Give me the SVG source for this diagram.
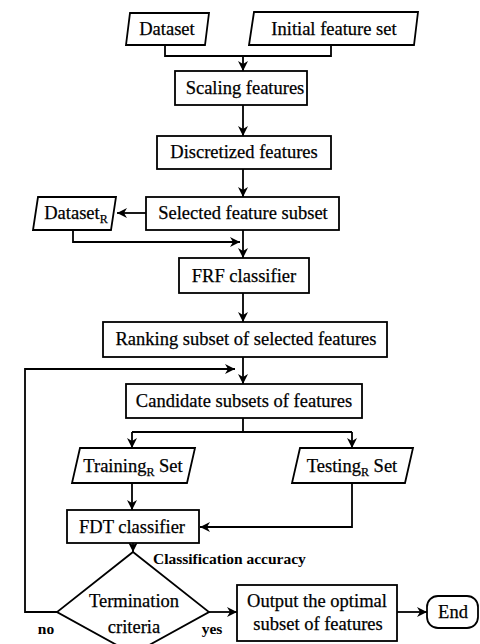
<svg xmlns="http://www.w3.org/2000/svg" width="480" height="644" viewBox="0 0 480 644">
<defs>
<marker id="ah" viewBox="0 0 10 10" refX="10" refY="5" markerWidth="10" markerHeight="10" markerUnits="userSpaceOnUse" orient="auto">
<path d="M0,0 L10,5 L0,10 L3,5 z" fill="#000"/>
</marker>
<style>
.box{fill:#fff;stroke:#000;stroke-width:1.8}
text{font-family:'Liberation Serif','Times New Roman',Times,serif;fill:#000}
.t{font-size:18.5px;text-anchor:middle;stroke:#000;stroke-width:0.25}
.b{font-size:15.5px;font-weight:bold}
.sub{font-size:12px}
.ln{fill:none;stroke:#000;stroke-width:1.8}
.ar{fill:none;stroke:#000;stroke-width:1.8;marker-end:url(#ah)}
</style>
</defs>
<rect width="480" height="644" fill="#fff"/>
<g id="connectors">
<path class="ln" d="M165,45 V56 H331 V45"/>
<path class="ar" d="M243,56 V71"/>
<path class="ar" d="M243,105 V136"/>
<path class="ar" d="M243,169 V197"/>
<path class="ar" d="M146,213 H117"/>
<path class="ar" d="M73,230 V242 H240"/>
<path class="ar" d="M243,230 V258"/>
<path class="ar" d="M243,293 V322"/>
<path class="ar" d="M243,357 V384"/>
<path class="ar" d="M57,612 H25 V369 H235"/>
<path class="ln" d="M243,418 V432 M132,432 H352"/>
<path class="ar" d="M132,432 V448"/>
<path class="ar" d="M352,432 V448"/>
<path class="ar" d="M132,483 V510"/>
<path class="ar" d="M352,483 V527 H200"/>
<path class="ar" d="M133,543 V552"/>
<path class="ar" d="M209,612 H237"/>
<path class="ar" d="M397,612 H427"/>
<text class="b" x="153" y="564">Classification accuracy</text>
<text class="b" x="46" y="634" text-anchor="middle">no</text>
<text class="b" x="212" y="634" text-anchor="middle">yes</text>
</g>
<g id="dataset">
<polygon class="box" points="130,13 209,13 205,45 126,45"/>
<text class="t" x="167" y="35">Dataset</text>
</g>
<g id="initial">
<polygon class="box" points="254,12 418,12 414,45 249,45"/>
<text class="t" x="334" y="35">Initial feature set</text>
</g>
<g id="scaling">
<rect class="box" x="175" y="71" width="132" height="34"/>
<text class="t" x="245" y="94">Scaling features</text>
</g>
<g id="discretized">
<rect class="box" x="157" y="136" width="174" height="33"/>
<text class="t" x="244" y="158">Discretized features</text>
</g>
<g id="selected">
<rect class="box" x="146" y="197" width="193" height="33"/>
<text class="t" x="243" y="219">Selected feature subset</text>
</g>
<g id="datasetR">
<polygon class="box" points="38,197 116,197 111,230 33,230"/>
<text class="t" x="76" y="219">Dataset<tspan class="sub" dy="4">R</tspan></text>
</g>
<g id="frf">
<rect class="box" x="179" y="258" width="130" height="35"/>
<text class="t" x="244" y="282">FRF classifier</text>
</g>
<g id="ranking">
<rect class="box" x="103" y="322" width="284" height="35"/>
<text class="t" x="246" y="345">Ranking subset of selected features</text>
</g>
<g id="candidate">
<rect class="box" x="126" y="384" width="236" height="34"/>
<text class="t" x="244" y="407">Candidate subsets of features</text>
</g>
<g id="training">
<polygon class="box" points="80,448 195,448 187,483 72,483"/>
<text class="t" x="133" y="472">Training<tspan class="sub" dy="4">R</tspan><tspan dy="-4"> Set</tspan></text>
</g>
<g id="testing">
<polygon class="box" points="300,448 413,448 405,483 292,483"/>
<text class="t" x="352" y="472">Testing<tspan class="sub" dy="4">R</tspan><tspan dy="-4"> Set</tspan></text>
</g>
<g id="fdt">
<rect class="box" x="67" y="510" width="132" height="33"/>
<text class="t" x="132" y="533">FDT classifier</text>
</g>
<g id="termination">
<polygon class="box" points="133,552 209,612 133,654 57,612"/>
<text class="t" x="134" y="607">Termination</text>
<text class="t" x="134" y="633">criteria</text>
</g>
<g id="output">
<rect class="box" x="237" y="585" width="160" height="56"/>
<text class="t" x="317" y="607">Output the optimal</text>
<text class="t" x="318" y="630">subset of features</text>
</g>
<g id="end">
<rect class="box" x="427" y="596" width="51" height="32" rx="11"/>
<text class="t" x="453" y="618">End</text>
</g>
</svg>
